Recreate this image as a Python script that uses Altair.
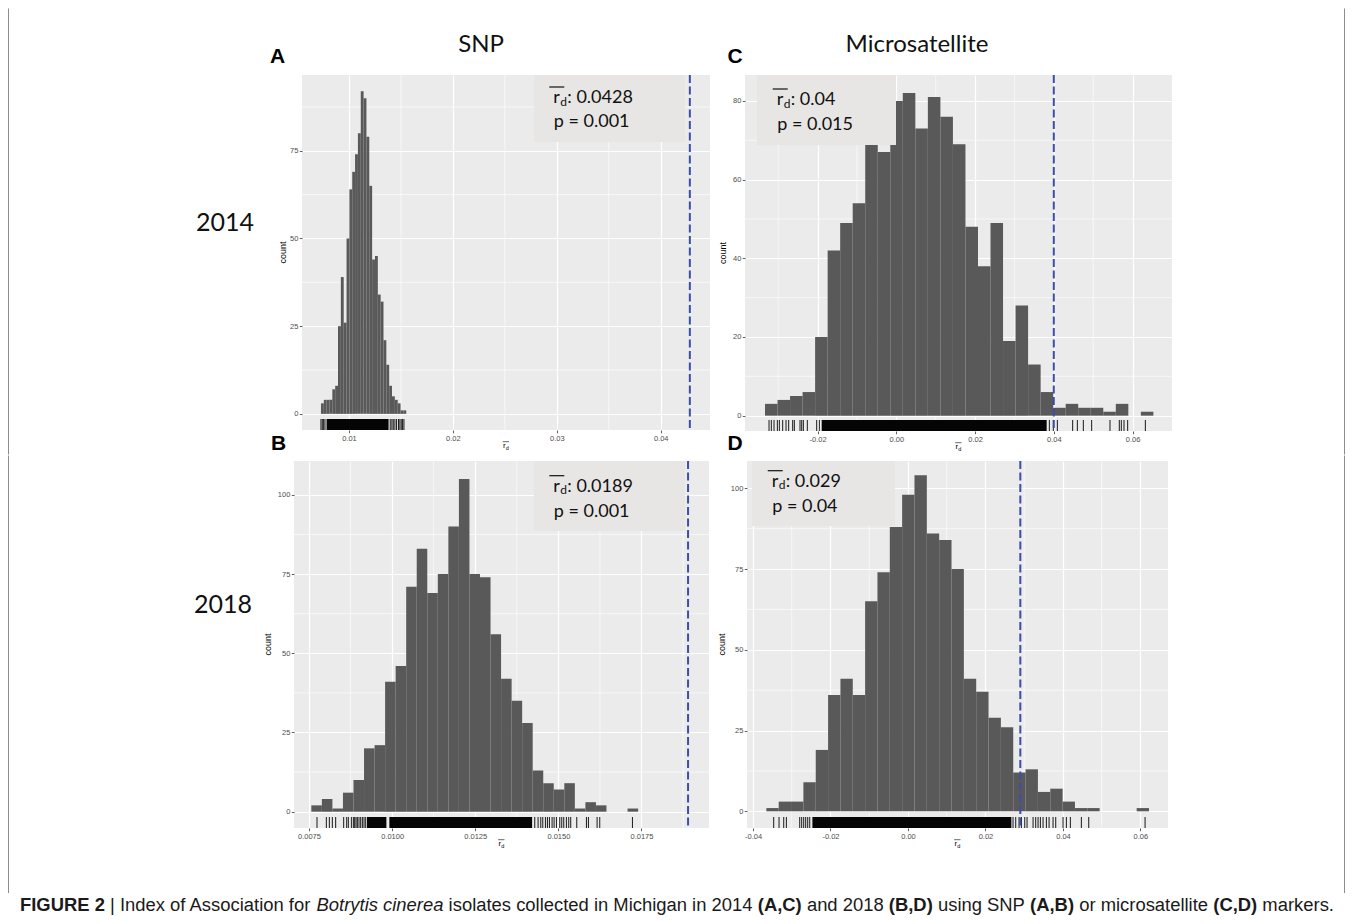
import altair as alt
import pandas as pd

# ================= values =================
# Panel A - SNP markers, 2014
A_bin_start = 0.007305
A_bin_width = 0.0002735
A_counts = [3, 4, 4, 4, 7, 8, 25, 39, 26, 50, 64, 69, 74, 80, 92, 90, 79, 65,
            44, 45, 34, 32, 21, 14, 8, 5, 4, 3, 1, 1]
A_rug = [0.007305, 0.007433, 0.007562, 0.007692, 0.01397, 0.01413, 0.01426,
         0.01442, 0.01458, 0.01477, 0.01490, 0.01503, 0.01516, 0.01529]
A_rug_dense = [[0.007846, 0.013810]]
A_observed = 0.0428
A_r_label = ": 0.0428"
A_p_label = "p = 0.001"
A_x_ticks = [0.01, 0.02, 0.03, 0.04]
A_x_minor = [0.015, 0.025, 0.035]
A_y_ticks = [0, 25, 50, 75]
A_y_minor = [12.5, 37.5, 62.5, 87.5]

# Panel B - SNP markers, 2018
B_bin_start = 0.007571
B_bin_width = 0.000317
B_counts = [2, 4, 1, 6, 10, 20, 21, 41, 46, 71, 83, 69, 75, 90, 105, 75, 74, 56,
            42, 35, 28, 13, 9, 7, 9, 1, 3, 2, 0, 0, 1]
B_rug = [0.007742, 0.008023, 0.008113, 0.008203, 0.008303, 0.008544, 0.008634,
         0.008684, 0.008775, 0.008835, 0.008875, 0.008915, 0.008955, 0.009005,
         0.009055, 0.009106, 0.009156, 0.009206, 0.014290, 0.014390, 0.014471,
         0.014531, 0.014611, 0.014671, 0.014731, 0.014811, 0.014872, 0.014942,
         0.015042, 0.015102, 0.015162, 0.015242, 0.015312, 0.015372, 0.015553,
         0.015844, 0.015904, 0.016165, 0.016245, 0.017228]
B_rug_dense = [[0.009246, 0.009828], [0.009918, 0.014210]]
B_observed = 0.0189
B_r_label = ": 0.0189"
B_p_label = "p = 0.001"
B_x_ticks = [0.0075, 0.0100, 0.0125, 0.0150, 0.0175]
B_x_minor = [0.00875, 0.01125, 0.01375, 0.01625, 0.01875]
B_y_ticks = [0, 25, 50, 75, 100]
B_y_minor = [12.5, 37.5, 62.5, 87.5]

# Panel C - microsatellite markers, 2014
C_bin_start = -0.03335
C_bin_width = 0.003182
C_counts = [3, 4, 5, 6, 20, 42, 49, 54, 69, 67, 80, 82, 73, 81, 76, 69, 48, 38,
            49, 19, 28, 13, 6, 2, 3, 2, 2, 1, 3, 0, 1]
C_rug = [-0.03233, -0.03174, -0.03106, -0.03021, -0.02971, -0.02886, -0.02801,
         -0.02734, -0.02632, -0.02590, -0.02446, -0.02403, -0.02361, -0.02260,
         -0.02022, -0.01955, 0.03887, 0.03988, 0.04090, 0.04479, 0.04598,
         0.04750, 0.04962, 0.05427, 0.05664, 0.05715, 0.05783, 0.05876, 0.06325]
C_rug_dense = [[-0.01895, 0.03819]]
C_observed = 0.04
C_r_label = ": 0.04"
C_p_label = "p = 0.015"
C_x_ticks = [-0.02, 0.0, 0.02, 0.04, 0.06]
C_x_minor = [-0.03, -0.01, 0.01, 0.03, 0.05]
C_y_ticks = [0, 20, 40, 60, 80]
C_y_minor = [10, 30, 50, 70]

# Panel D - microsatellite markers, 2018
D_bin_start = -0.03655
D_bin_width = 0.003186
D_counts = [1, 3, 3, 9, 19, 36, 41, 36, 65, 74, 88, 98, 104, 86, 84, 75, 41, 37,
            29, 26, 12, 13, 6, 7, 3, 1, 1, 0, 0, 0, 1]
D_rug = [-0.03466, -0.03328, -0.03207, -0.03139, -0.02794, -0.02743, -0.02691,
         -0.02640, -0.02588, -0.02536, 0.02712, 0.02781, 0.02867, 0.02928,
         0.03014, 0.03074, 0.03229, 0.03297, 0.03358, 0.03418, 0.03487, 0.03573,
         0.03642, 0.03745, 0.03814, 0.04003, 0.04089, 0.04192, 0.04476, 0.04666,
         0.06120]
D_rug_dense = [[-0.02467, 0.02669]]
D_observed = 0.029
D_r_label = ": 0.029"
D_p_label = "p = 0.04"
D_x_ticks = [-0.04, -0.02, 0.0, 0.02, 0.04, 0.06]
D_x_minor = [-0.03, -0.01, 0.01, 0.03, 0.05]
D_y_ticks = [0, 25, 50, 75, 100]
D_y_minor = [12.5, 37.5, 62.5, 87.5]

col_titles = ["SNP", "Microsatellite"]
row_titles = ["2014", "2018"]
panel_letters = ["A", "B", "C", "D"]
caption_parts = [
    ("FIGURE 2", "bold", "normal"),
    (" | ", "normal", "normal"),
    ("Index of Association for ", "normal", "normal"),
    ("Botrytis cinerea", "normal", "italic"),
    (" isolates collected in Michigan in 2014 ", "normal", "normal"),
    ("(A,C)", "bold", "normal"),
    (" and 2018 ", "normal", "normal"),
    ("(B,D)", "bold", "normal"),
    (" using SNP ", "normal", "normal"),
    ("(A,B)", "bold", "normal"),
    (" or microsatellite ", "normal", "normal"),
    ("(C,D)", "bold", "normal"),
    (" markers.", "normal", "normal"),
]

# ================= styling =================
F_ANN = "Lato"
F_AX = "Liberation Sans"
BAR = "#595959"
PANEL_BG = "#EBEBEB"
BOX_BG = "#E8E6E4"
VLINE = "#3B4FAA"
BORDER = "#8c8c8c"


def one():
    return pd.DataFrame({"k": [0]})


def txt(t, x, y, size, font, weight="normal", style="normal", align="left",
        baseline="alphabetic", color="#111111", angle=0):
    return alt.Chart(pd.DataFrame({"t": [t]})).mark_text(
        font=font, fontSize=size, fontWeight=weight, fontStyle=style,
        align=align, baseline=baseline, color=color, angle=angle
    ).encode(x=alt.value(x), y=alt.value(y), text="t:N")


def hrule(x1, x2, y, color="#111111", width=1.0):
    return alt.Chart(one()).mark_rule(color=color, strokeWidth=width).encode(
        x=alt.value(x1), x2=alt.value(x2), y=alt.value(y))


def vrule(x, y1, y2, color=BORDER, width=1.0):
    return alt.Chart(one()).mark_rule(color=color, strokeWidth=width).encode(
        x=alt.value(x), y=alt.value(y1), y2=alt.value(y2))


def label_expr(dec):
    return (f"datum.value < 0 ? '-' + format(-datum.value, '.{dec}f') : "
            f"format(datum.value, '.{dec}f')")


def panel(start, bw, counts, rug, dense, observed, r_label, p_label,
          xticks, xminor, yticks, yminor, xdec, W, H, xdom, ydom,
          box, rx, b1, b2, ytitle_dx):
    xs = alt.Scale(domain=xdom, nice=False, zero=False)
    ys = alt.Scale(domain=ydom, nice=False, zero=False)
    n = len(counts)
    bars_df = pd.DataFrame({"lo": [start + i * bw for i in range(n)],
                            "count": counts})
    bars_df["hi"] = bars_df["lo"] + bw
    bars_df["zero"] = 0.0

    common = dict(grid=True, gridColor="white", gridWidth=1.2, domain=False,
                  tickColor="#333333", tickSize=2.7, tickWidth=0.8,
                  labelFont=F_AX, labelFontSize=7.5, labelColor="#4D4D4D",
                  labelPadding=1.5, labelOverlap=False, title=None)
    xaxis = alt.Axis(values=xticks, labelExpr=label_expr(xdec),
                     labelFlush=False, **common)
    yaxis = alt.Axis(values=yticks, format="d", **common)

    def X(f):
        return alt.X(f, scale=xs, axis=xaxis)

    def Y(f):
        return alt.Y(f, scale=ys, axis=yaxis)

    layers = []
    layers.append(alt.Chart(pd.DataFrame({"v": xminor})).mark_rule(
        color="white", strokeWidth=0.6).encode(x=X("v:Q")))
    layers.append(alt.Chart(pd.DataFrame({"v": yminor})).mark_rule(
        color="white", strokeWidth=0.6).encode(y=Y("v:Q")))
    layers.append(alt.Chart(bars_df).mark_rect(fill=BAR).encode(
        x=X("lo:Q"), x2="hi:Q", y=Y("zero:Q"), y2="count:Q"))
    layers.append(alt.Chart(pd.DataFrame({"v": rug})).mark_rule(
        color="black", strokeWidth=0.9).encode(
        x=X("v:Q"), y=alt.value(H - 11), y2=alt.value(H)))
    layers.append(alt.Chart(pd.DataFrame({"a": [d[0] for d in dense],
                                          "b": [d[1] for d in dense]}))
                  .mark_rect(color="#050505").encode(
        x=X("a:Q"), x2="b:Q", y=alt.value(H - 11), y2=alt.value(H)))
    layers.append(alt.Chart(pd.DataFrame({"v": [observed]})).mark_rule(
        color=VLINE, strokeWidth=2, strokeDash=[8, 3.5]).encode(x=X("v:Q")))
    # annotation box
    L, R, Bt = box
    layers.append(alt.Chart(one()).mark_rect(fill=BOX_BG).encode(
        x=alt.value(L), x2=alt.value(R), y=alt.value(0), y2=alt.value(Bt)))
    layers.append(hrule(rx - 4, rx + 11, b1 - 16, width=1.2))
    layers.append(txt("r", rx, b1, 18, F_ANN))
    layers.append(txt("d", rx + 7, b1 + 2.5, 12, F_ANN))
    layers.append(txt(r_label, rx + 14, b1, 18, F_ANN))
    layers.append(txt(p_label, rx + 0.5, b2, 18, F_ANN))
    # axis titles
    layers.append(txt("count", -ytitle_dx, H / 2, 9, F_AX, align="center",
                      baseline="middle", color="#000000", angle=270))
    cx = W / 2
    by = H + 18
    layers.append(txt("r", cx - 3, by, 8, F_AX, color="#000000"))
    layers.append(txt("d", cx - 0.3, by + 1.8, 5.5, F_AX, color="#000000"))
    layers.append(hrule(cx - 3.3, cx + 3, by - 6.3, color="#000000", width=0.6))
    return alt.layer(*layers).properties(
        width=W, height=H,
        view=alt.ViewBackground(fill=PANEL_BG, strokeWidth=0))


pA = panel(A_bin_start, A_bin_width, A_counts, A_rug, A_rug_dense, A_observed,
           A_r_label, A_p_label, A_x_ticks, A_x_minor, A_y_ticks, A_y_minor, 2,
           408, 355, [0.00548, 0.04474], [-4.6, 96.6],
           (232, 383, 67), 251.3, 28, 52, 18.7)
pC = panel(C_bin_start, C_bin_width, C_counts, C_rug, C_rug_dense, C_observed,
           C_r_label, C_p_label, C_x_ticks, C_x_minor, C_y_ticks, C_y_minor, 2,
           427, 356, [-0.03843, 0.07002], [-3.9, 86.6],
           (12, 151, 70), 31.7, 30, 55, 21.7)
pB = panel(B_bin_start, B_bin_width, B_counts, B_rug, B_rug_dense, B_observed,
           B_r_label, B_p_label, B_x_ticks, B_x_minor, B_y_ticks, B_y_minor, 4,
           415, 367, [0.00705, 0.01953], [-5.15, 110.7],
           (240, 391, 70), 259.3, 30.7, 55.7, 25.7)
pD = panel(D_bin_start, D_bin_width, D_counts, D_rug, D_rug_dense, D_observed,
           D_r_label, D_p_label, D_x_ticks, D_x_minor, D_y_ticks, D_y_minor, 2,
           421, 367, [-0.04155, 0.06712], [-5.17, 108.45],
           (5, 148, 65), 24.7, 25.7, 50.7, 25.3)

# ---------------- decorations (spacer views at the left of each row) -------
# row 1 origin is at page (255, 75), row 2 origin at page (255, 461)
row1_decor = [
    vrule(-246.5, -66.5, 379.5),
    vrule(1089.5, -66.5, 379.5),
    txt(col_titles[0], 226, -23, 24, F_ANN, align="center"),
    txt(col_titles[1], 662, -23, 24, F_ANN, align="center"),
    txt(row_titles[0], -30, 156, 25, F_ANN, align="center"),
    txt(panel_letters[0], 15, -11.7, 21, F_AX, weight="bold", color="#000000"),
    txt(panel_letters[2], 472.5, -11.7, 21, F_AX, weight="bold", color="#000000"),
    txt(panel_letters[1], 16, 375, 21, F_AX, weight="bold", color="#000000"),
    txt(panel_letters[3], 472.5, 375, 21, F_AX, weight="bold", color="#000000"),
]
spacer1 = alt.layer(*row1_decor).properties(width=12, height=1)

# caption laid out from Arial/Liberation Sans advance widths
REG = {" ": 278, "(": 333, ")": 333, ",": 278, ".": 278, "|": 260}
for ch in "abdeghnopqu0123456789":
    REG[ch] = 556
for ch in "cksvxyz":
    REG[ch] = 500
for ch in "ft":
    REG[ch] = 278
for ch in "ijl":
    REG[ch] = 222
REG.update({"r": 333, "m": 833, "w": 722, "I": 278, "J": 500, "L": 556,
            "M": 833, "W": 944})
for ch in "ABEKPSVXY":
    REG[ch] = 667
for ch in "CDHNRU":
    REG[ch] = 722
for ch in "FTZ":
    REG[ch] = 611
for ch in "GOQ":
    REG[ch] = 778
BOLD = dict(REG)
for ch in "ABCDRU":
    BOLD[ch] = 722


def em_width(s, weight):
    tab = BOLD if weight == "bold" else REG
    return sum(tab.get(c, 556) for c in s) / 1000.0


cap_left, cap_right = 20, 1334
total_em = sum(em_width(t, w) for t, w, _ in caption_parts)
cap_size = (cap_right - cap_left) / total_em
row2_decor = [
    vrule(-246.5, -5.5, 432),
    vrule(1089.5, -5.5, 432),
    txt(row_titles[1], -32, 152, 25, F_ANN, align="center"),
]
xpos = cap_left - 255
for t, w, st in caption_parts:
    stripped = t.lstrip(" ")
    lead = em_width(t[: len(t) - len(stripped)], w) * cap_size
    row2_decor.append(txt(stripped, xpos + lead, 450, cap_size, F_AX, weight=w,
                          style=st, color="#1a1a1a"))
    xpos += em_width(t, w) * cap_size
spacer2 = alt.layer(*row2_decor).properties(width=1, height=1)

row1 = alt.hconcat(spacer1, pA, pC, spacing=35, bounds="flush")
row2 = alt.hconcat(spacer2, pB, pD, spacing=38, bounds="flush")
chart = alt.vconcat(row1, row2, spacing=0).properties(
    padding=0, background="white").configure_view(strokeWidth=0)

chart.save("out.html", embed_options={"renderer": "svg", "actions": False})
